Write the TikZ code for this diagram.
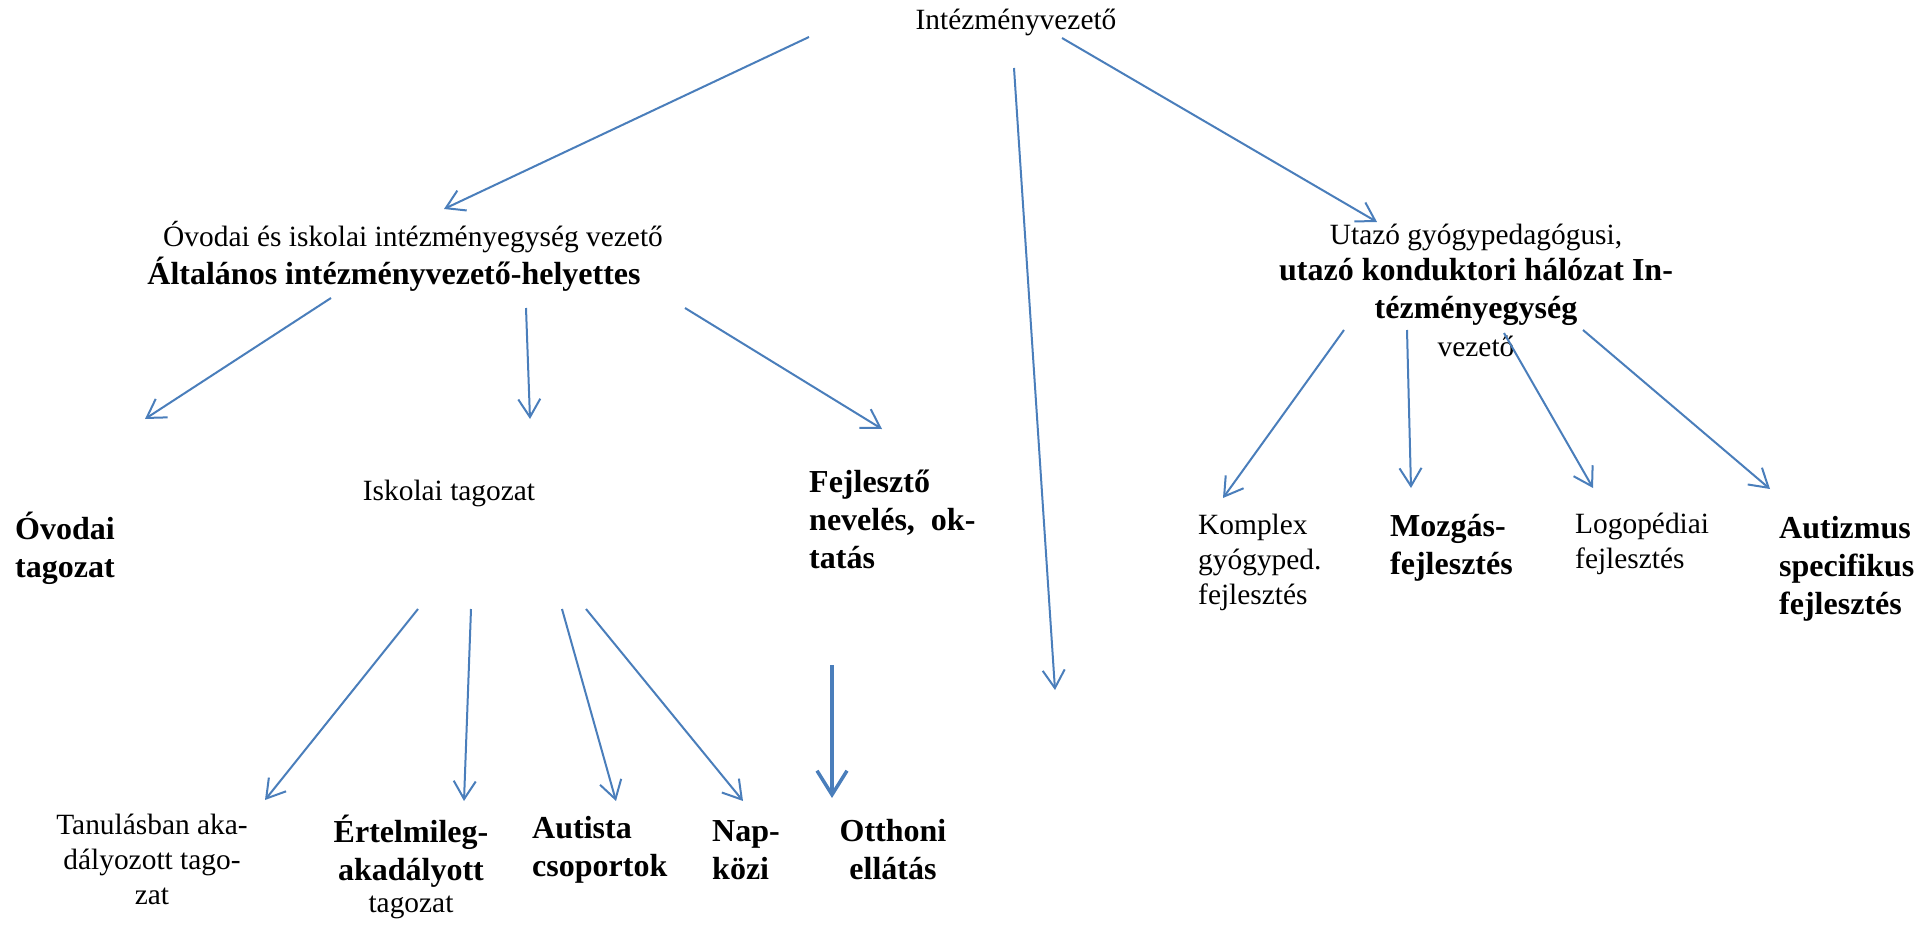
\documentclass[tikz,border=0pt]{standalone}
\usepackage{fontspec}
\setmainfont{Liberation Serif}
\usepackage{tikz}
\usetikzlibrary{arrows.meta}
\definecolor{arrblue}{RGB}{74,126,187}
\tikzset{
    txt/.style={font=\fontsize{29.4}{35}\selectfont, inner sep=0pt},
    btxt/.style={font=\fontsize{32}{38}\selectfont\bfseries, inner sep=0pt},
    arr/.style={draw=arrblue, line width=2pt,
        -{Straight Barb[length=18pt,width=22pt]}},
    thickarr/.style={draw=arrblue, line width=3.5pt,
        -{Straight Barb[length=24pt,width=30pt]}}
}
\begin{document}
\begin{tikzpicture}[x=1pt,y=-1pt]
        \useasboundingbox (0,0) rectangle (1932,925);
        % nodes
        \node[txt] (top) at (1016,22) {Intézményvezető};
        \node[txt] (ovisk) at (413,237) {Óvodai és iskolai intézményegység vezető};
        \node[btxt] (alt) at (394,274) {Általános intézményvezető-helyettes};
        \node[txt] (utazo) at (1476,237) {Utazó gyógypedagógusi,};
        \node[btxt, align=center] (halo) at (1476,292) {utazó konduktori hálózat In-\\tézményegység};
        \node[txt] (vez) at (1476,346) {vezető};
        \node[btxt, align=left, anchor=west] (ovoda) at (15,548) {Óvodai\\tagozat};
        \node[txt] (isk) at (449,493) {Iskolai tagozat};
        \node[btxt, align=left, anchor=west] (fejl) at (809,519) {Fejlesztő\\nevelés,\ \ ok-\\tatás};
        \node[txt, align=left, anchor=west] (komplex) at (1198,562) {Komplex\\gyógyped.\\fejlesztés};
        \node[btxt, align=left, anchor=west] (mozgas) at (1390,548) {Mozgás-\\fejlesztés};
        \node[txt, align=left, anchor=west] (logo) at (1575,544) {Logopédiai\\fejlesztés};
        \node[btxt, align=left, anchor=west] (autizm) at (1779,569) {Autizmus\\specifikus\\fejlesztés};
        \node[txt, align=center] (tanul) at (152,859) {Tanulásban aka-\\dályozott tago-\\zat};
        \node[btxt, align=center] (ertelm) at (411,851) {Értelmileg-\\akadályott};
        \node[txt] (ertelmt) at (411,907) {tagozat};
        \node[btxt, align=left, anchor=west] (autista) at (532,850) {Autista\\csoportok};
        \node[btxt, align=left, anchor=west] (napk) at (712,850) {Nap-\\közi};
        \node[btxt, align=center] (otthon) at (893,850) {Otthoni\\ellátás};
        % arrow ends
        \coordinate (t1) at (809,37);   \coordinate (h1) at (444,209);
        \coordinate (t2) at (1014,68);  \coordinate (h2) at (1055,690);
        \coordinate (t3) at (1062,38);  \coordinate (h3) at (1377,222);
        \coordinate (a1) at (331,298);  \coordinate (b1) at (145,419);
        \coordinate (a2) at (526,308);  \coordinate (b2) at (530,419);
        \coordinate (a3) at (685,308);  \coordinate (b3) at (882,429);
        \coordinate (u1) at (1344,330); \coordinate (v1) at (1223,498);
        \coordinate (u2) at (1407,330); \coordinate (v2) at (1411,488);
        \coordinate (u3) at (1504,333); \coordinate (v3) at (1593,488);
        \coordinate (u4) at (1583,330); \coordinate (v4) at (1770,489);
        \coordinate (i1) at (418,609);  \coordinate (j1) at (265,800);
        \coordinate (i2) at (471,609);  \coordinate (j2) at (464,801);
        \coordinate (i3) at (562,609);  \coordinate (j3) at (616,801);
        \coordinate (i4) at (586,609);  \coordinate (j4) at (743,801);
        \coordinate (f1) at (832,665);  \coordinate (g1) at (832,798);
        % arrows
        \draw[arr] (t1) -- (h1);
        \draw[arr] (t2) -- (h2);
        \draw[arr] (t3) -- (h3);
        \draw[arr] (a1) -- (b1);
        \draw[arr] (a2) -- (b2);
        \draw[arr] (a3) -- (b3);
        \draw[arr] (u1) -- (v1);
        \draw[arr] (u2) -- (v2);
        \draw[arr] (u3) -- (v3);
        \draw[arr] (u4) -- (v4);
        \draw[arr] (i1) -- (j1);
        \draw[arr] (i2) -- (j2);
        \draw[arr] (i3) -- (j3);
        \draw[arr] (i4) -- (j4);
        \draw[thickarr] (f1) -- (g1);
    \end{tikzpicture}
\end{document}
